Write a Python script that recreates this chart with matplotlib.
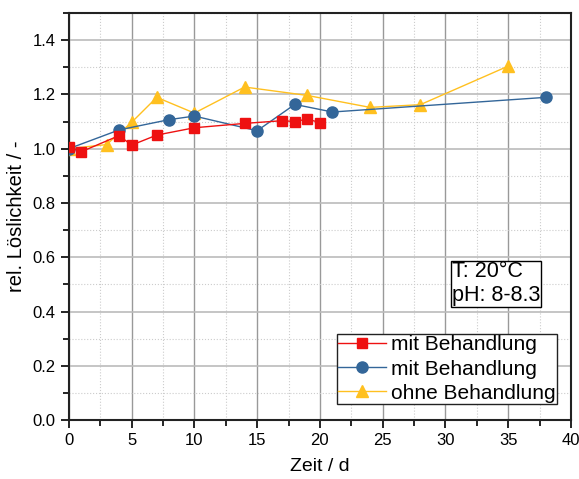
import numpy as np
import matplotlib.pyplot as plt
from matplotlib.ticker import MultipleLocator

plt.rcParams['font.family'] = ['Liberation Sans', 'DejaVu Sans']

# Werte
t_mit1 = [0, 1, 4, 5, 7, 10, 14, 17, 18, 19, 20]
l_mit1 = [1.005, 0.989, 1.048, 1.013, 1.050, 1.077, 1.093, 1.103, 1.100, 1.109, 1.096]

t_mit2 = [0, 4, 8, 10, 15, 18, 21, 38]
l_mit2 = [1.0, 1.069, 1.107, 1.120, 1.066, 1.163, 1.135, 1.189]

t_ohne = [0, 3, 5, 7, 10, 14, 19, 24, 28, 35]
l_ohne = [1.0, 1.015, 1.097, 1.189, 1.131, 1.227, 1.196, 1.152, 1.162, 1.304]

fig = plt.figure(figsize=(5.79, 4.79), dpi=100)
ax = fig.add_axes([0.119, 0.123, 0.867, 0.850])

ax.plot(t_mit1, l_mit1, color='#ee1111', lw=1.0, marker='s', ms=7, label='mit Behandlung', zorder=5)
ax.plot(t_mit2, l_mit2, color='#336699', lw=1.0, marker='o', ms=8, label='mit Behandlung', zorder=4)
ax.plot(t_ohne, l_ohne, color='#ffc020', lw=1.0, marker='^', ms=9, label='ohne Behandlung', zorder=3)

ax.set_xlim(0, 40)
ax.set_ylim(0, 1.5)
ax.xaxis.set_major_locator(MultipleLocator(5))
ax.xaxis.set_minor_locator(MultipleLocator(2.5))
ax.yaxis.set_minor_locator(MultipleLocator(0.1))
ax.set_yticks(np.arange(0, 1.41, 0.2))
ax.yaxis.set_major_formatter(plt.FormatStrFormatter('%.1f'))

ax.grid(which='major', axis='x', color='#999999', lw=1.0, ls='-')
ax.grid(which='major', axis='y', color='#bbbbbb', lw=1.2, ls='-')
ax.grid(which='minor', color='#cccccc', lw=0.8, ls=':')
ax.set_axisbelow(True)

ax.tick_params(which='both', direction='out', top=False, right=False, labelsize=12, width=1.2)
ax.tick_params(which='major', length=6)
ax.tick_params(which='minor', length=4)
for s in ax.spines.values():
    s.set_linewidth(1.5)
    s.set_color('#222222')

ax.set_xlabel('Zeit / d', fontsize=14, labelpad=7)
ax.set_ylabel('rel. Löslichkeit / -', fontsize=14.5, labelpad=5)

ax.text(30.5, 0.585, 'T: 20°C\npH: 8-8.3', fontsize=15.5, va='top', ha='left',
        linespacing=1.2,
        bbox=dict(boxstyle='square,pad=0.03', fc='white', ec='black', lw=1.0))

leg = ax.legend(loc='lower right', bbox_to_anchor=(0.972, 0.04), fontsize=15, frameon=True,
                fancybox=False, edgecolor='#222222', framealpha=1, borderpad=0.05,
                labelspacing=0.25, handlelength=2.3, handletextpad=0.25, borderaxespad=0)
leg.get_frame().set_linewidth(1.0)

fig.savefig('out.png', dpi=100)
